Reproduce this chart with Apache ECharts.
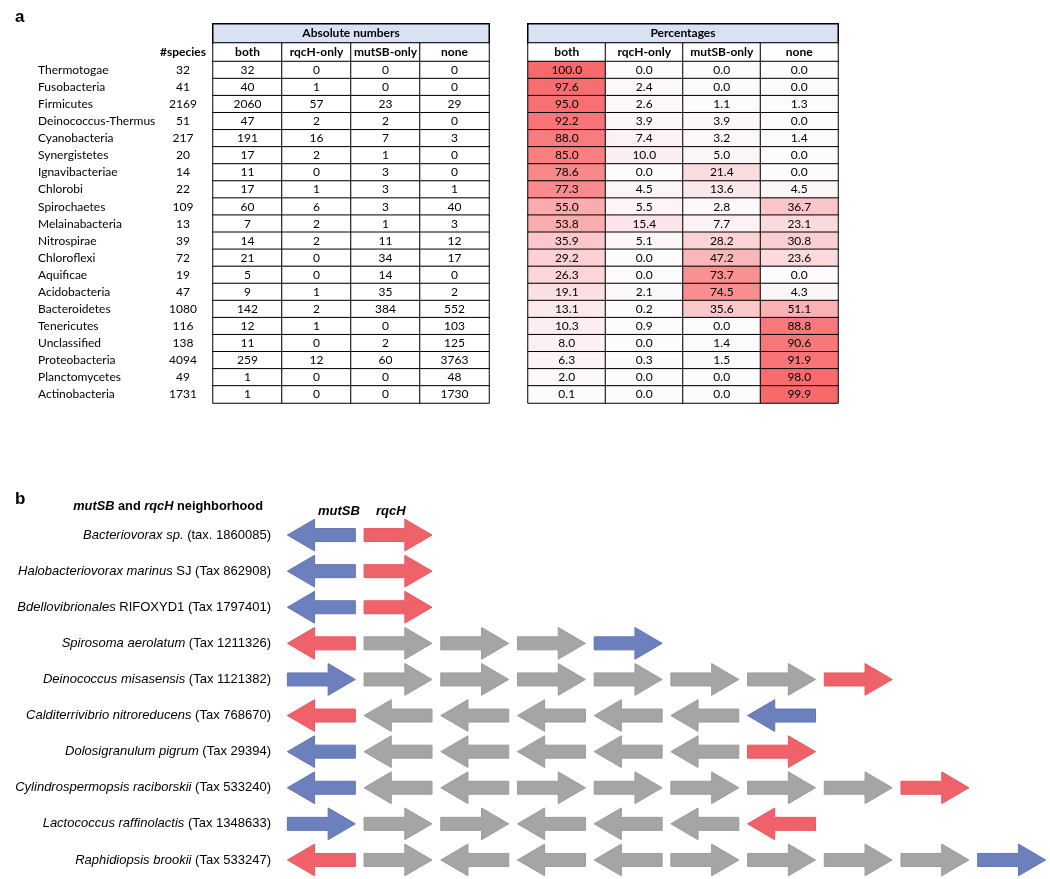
<!DOCTYPE html>
<html><head><meta charset="utf-8">
<script src="https://cdn.jsdelivr.net/npm/echarts@6/dist/echarts.min.js"></script>
<style>html,body{margin:0;padding:0;background:#fff}#c{width:1050px;height:879px}</style>
</head><body><div id="c"></div>
<script>
// ---------- Panel a data ----------
const phyla = ['Thermotogae','Fusobacteria','Firmicutes','Deinococcus-Thermus','Cyanobacteria','Synergistetes','Ignavibacteriae','Chlorobi','Spirochaetes','Melainabacteria','Nitrospirae','Chloroflexi','Aquificae','Acidobacteria','Bacteroidetes','Tenericutes','Unclassified','Proteobacteria','Planctomycetes','Actinobacteria'];
const species = [32,41,2169,51,217,20,14,22,109,13,39,72,19,47,1080,116,138,4094,49,1731];
const columns = ['both','rqcH-only','mutSB-only','none'];
const absBoth  = [32,40,2060,47,191,17,11,17,60,7,14,21,5,9,142,12,11,259,1,1];
const absRqcH  = [0,1,57,2,16,2,0,1,6,2,2,0,0,1,2,1,0,12,0,0];
const absMutSB = [0,0,23,2,7,1,3,3,3,1,11,34,14,35,384,0,2,60,0,0];
const absNone  = [0,0,29,0,3,0,0,1,40,3,12,17,0,2,552,103,125,3763,48,1730];
const pctBoth  = [100.0,97.6,95.0,92.2,88.0,85.0,78.6,77.3,55.0,53.8,35.9,29.2,26.3,19.1,13.1,10.3,8.0,6.3,2.0,0.1];
const pctRqcH  = [0.0,2.4,2.6,3.9,7.4,10.0,0.0,4.5,5.5,15.4,5.1,0.0,0.0,2.1,0.2,0.9,0.0,0.3,0.0,0.0];
const pctMutSB = [0.0,0.0,1.1,3.9,3.2,5.0,21.4,13.6,2.8,7.7,28.2,47.2,73.7,74.5,35.6,0.0,1.4,1.5,0.0,0.0];
const pctNone  = [0.0,0.0,1.3,0.0,1.4,0.0,0.0,4.5,36.7,23.1,30.8,23.6,0.0,4.3,51.1,88.8,90.6,91.9,98.0,99.9];
const absTitle = 'Absolute numbers';
const pctTitle = 'Percentages';
const speciesHeader = '#species';

// ---------- Panel b data ----------
const orgItalic = ['Bacteriovorax sp.','Halobacteriovorax marinus','Bdellovibrionales','Spirosoma aerolatum','Deinococcus misasensis','Calditerrivibrio nitroreducens','Dolosigranulum pigrum','Cylindrospermopsis raciborskii','Lactococcus raffinolactis','Raphidiopsis brookii'];
const orgRest = ['(tax. 1860085)','SJ (Tax 862908)','RIFOXYD1 (Tax 1797401)','(Tax 1211326)','(Tax 1121382)','(Tax 768670)','(Tax 29394)','(Tax 533240)','(Tax 1348633)','(Tax 533247)'];
const geneDir = [
  ['L','R'],
  ['L','R'],
  ['L','R'],
  ['L','R','R','R','R'],
  ['R','R','R','R','R','R','R','R'],
  ['L','L','L','L','L','L','L'],
  ['L','L','L','L','L','L','R'],
  ['L','L','L','R','R','R','R','R','R'],
  ['R','R','R','L','L','L','L'],
  ['L','R','L','L','L','R','R','R','R','R']
];
const geneKind = [
  ['mutSB','rqcH'],
  ['mutSB','rqcH'],
  ['mutSB','rqcH'],
  ['rqcH','other','other','other','mutSB'],
  ['mutSB','other','other','other','other','other','other','rqcH'],
  ['rqcH','other','other','other','other','other','mutSB'],
  ['mutSB','other','other','other','other','other','rqcH'],
  ['mutSB','other','other','other','other','other','other','other','rqcH'],
  ['mutSB','other','other','other','other','other','rqcH'],
  ['rqcH','other','other','other','other','other','other','other','other','mutSB']
];
const geneLabels = ['mutSB','rqcH'];

// ---------- build ----------
const tableFont = 'Lato';
const absCols = [absBoth, absRqcH, absMutSB, absNone];
const pctCols = [pctBoth, pctRqcH, pctMutSB, pctNone];
const absData = [], pctData = [];
absCols.forEach((col, j) => col.forEach((v, i) => absData.push([j, i, v])));
pctCols.forEach((col, j) => col.forEach((v, i) => pctData.push([j, i, v])));
const colHdrData = columns.map((c, j) => [j, 0, 0]);

const kindColor = {mutSB: '#6c80bd', rqcH: '#f0626a', other: '#a5a5a5'};
const kindStroke = {mutSB: '#6275b0', rqcH: '#e55a62', other: '#9b9b9b'};
const kinds = ['mutSB','rqcH','other'];
const geneData = [];
geneDir.forEach((row, r) => row.forEach((d, s) => geneData.push([s, r, d === 'R' ? 1 : -1, kinds.indexOf(geneKind[r][s])])));

const hidden = {show: false};
function catAxis(gridIndex, data, extra) {
  return Object.assign({type: 'category', gridIndex, data, axisLine: hidden, axisTick: hidden, splitLine: hidden, axisLabel: {show: false}}, extra || {});
}
const cellBorder = {borderColor: '#000', borderWidth: 1};
const txt = {color: '#000', fontFamily: tableFont, fontSize: 12};
const bFont = 'Liberation Sans';

const option = {
  animation: false,
  backgroundColor: '#fff',
  title: [
    {text: 'a', left: 10, top: 4, textStyle: {fontFamily: bFont, fontWeight: 'bold', fontSize: 17, color: '#000'}},
    {text: 'b', left: 10, top: 486, textStyle: {fontFamily: bFont, fontWeight: 'bold', fontSize: 17, color: '#000'}},
    {text: '{i|mutSB}{n| and }{i|rqcH}{n| neighborhood}', right: 1050 - 268, top: 495,
      textStyle: {rich: {
        i: {fontFamily: bFont, fontStyle: 'italic', fontWeight: 'bold', fontSize: 12.8, color: '#000'},
        n: {fontFamily: bFont, fontWeight: 'bold', fontSize: 12.8, color: '#000'}}}},
    {text: geneLabels[0], left: 313, top: 500, textStyle: {fontFamily: bFont, fontStyle: 'italic', fontWeight: 'bold', fontSize: 13, color: '#000'}},
    {text: geneLabels[1], left: 371, top: 500, textStyle: {fontFamily: bFont, fontStyle: 'italic', fontWeight: 'bold', fontSize: 13, color: '#000'}}
  ],
  grid: [
    {left: 213, top: 24, width: 276, height: 19},
    {left: 213, top: 43, width: 276, height: 18.5},
    {left: 213, top: 61.5, width: 276, height: 341.5},
    {left: 528, top: 24, width: 310, height: 19},
    {left: 528, top: 43, width: 310, height: 18.5},
    {left: 528, top: 61.5, width: 310, height: 341.5},
    {left: 283, top: 517, width: 767, height: 361}
  ],
  xAxis: [
    catAxis(0, [absTitle]),
    catAxis(1, columns),
    catAxis(2, columns),
    catAxis(3, [pctTitle]),
    catAxis(4, columns),
    catAxis(5, columns),
    {type: 'value', gridIndex: 6, min: -0.5, max: 9.5, interval: 0.5, show: false}
  ],
  yAxis: [
    catAxis(0, ['t']),
    catAxis(1, ['h'], {axisLabel: {show: true, margin: 3, align: 'right',
      formatter: () => '{h|' + speciesHeader + '}',
      rich: {h: Object.assign({}, txt, {fontWeight: 'bold', width: 54, align: 'center'})}}}),
    catAxis(2, phyla, {inverse: true, axisLabel: {show: true, margin: 3, align: 'right',
      formatter: (v, i) => '{n|' + v + '}{s|' + species[i] + '}',
      rich: {n: Object.assign({}, txt, {width: 118, align: 'left'}), s: Object.assign({}, txt, {width: 54, align: 'center'})}}}),
    catAxis(3, ['t']),
    catAxis(4, ['h']),
    catAxis(5, phyla, {inverse: true}),
    catAxis(6, orgItalic, {inverse: true, axisLabel: {show: true, margin: 12, align: 'right',
      formatter: (v, i) => '{i|' + v + '}{r| ' + orgRest[i] + '}',
      rich: {
        i: {fontFamily: bFont, fontStyle: 'italic', fontSize: 13, color: '#000'},
        r: {fontFamily: bFont, fontSize: 13, color: '#000'}}}})
  ],
  visualMap: {type: 'continuous', show: false, min: 0, max: 100, dimension: 2, seriesIndex: 5,
    inRange: {color: ['#fcfcff', '#f8696b']}},
  series: [
    {type: 'heatmap', xAxisIndex: 0, yAxisIndex: 0, data: [[0, 0, 0]],
      itemStyle: {color: '#d9e1f2', borderColor: '#000', borderWidth: 1.5},
      label: {show: true, formatter: () => absTitle, color: '#000', fontFamily: tableFont, fontSize: 12, fontWeight: 'bold'},
      emphasis: {disabled: true}},
    {type: 'heatmap', xAxisIndex: 1, yAxisIndex: 1, data: colHdrData,
      itemStyle: Object.assign({color: '#fff'}, cellBorder),
      label: Object.assign({show: true, fontWeight: 'bold', formatter: p => columns[p.value[0]]}, txt),
      emphasis: {disabled: true}},
    {type: 'heatmap', xAxisIndex: 2, yAxisIndex: 2, data: absData,
      itemStyle: Object.assign({color: '#fff'}, cellBorder),
      label: Object.assign({show: true, formatter: p => String(p.value[2])}, txt),
      emphasis: {disabled: true}},
    {type: 'heatmap', xAxisIndex: 3, yAxisIndex: 3, data: [[0, 0, 0]],
      itemStyle: {color: '#d9e1f2', borderColor: '#000', borderWidth: 1.5},
      label: {show: true, formatter: () => pctTitle, color: '#000', fontFamily: tableFont, fontSize: 12, fontWeight: 'bold'},
      emphasis: {disabled: true}},
    {type: 'heatmap', xAxisIndex: 4, yAxisIndex: 4, data: colHdrData,
      itemStyle: Object.assign({color: '#fff'}, cellBorder),
      label: Object.assign({show: true, fontWeight: 'bold', formatter: p => columns[p.value[0]]}, txt),
      emphasis: {disabled: true}},
    {type: 'heatmap', xAxisIndex: 5, yAxisIndex: 5, data: pctData,
      itemStyle: cellBorder,
      label: Object.assign({show: true, formatter: p => p.value[2].toFixed(1)}, txt),
      emphasis: {disabled: true}},
    {type: 'custom', xAxisIndex: 6, yAxisIndex: 6, data: geneData, clip: false,
      renderItem: (params, api) => {
        const s = api.value(0), r = api.value(1), dir = api.value(2), k = kinds[api.value(3)];
        const c = api.coord([s, r]);
        const unit = api.size([1, 0])[0];
        const band = api.size([0, 1])[1];
        const half = unit * 0.443;
        const head = half * 2 * 0.4;
        const bh = band * 0.18, hh = band * 0.44;
        const cx = c[0], cy = c[1];
        let pts;
        if (dir > 0) {
          const x0 = cx - half, x1 = cx + half, xh = x1 - head;
          pts = [[x0, cy - bh], [xh, cy - bh], [xh, cy - hh], [x1, cy], [xh, cy + hh], [xh, cy + bh], [x0, cy + bh]];
        } else {
          const x0 = cx + half, x1 = cx - half, xh = x1 + head;
          pts = [[x0, cy - bh], [xh, cy - bh], [xh, cy - hh], [x1, cy], [xh, cy + hh], [xh, cy + bh], [x0, cy + bh]];
        }
        return {type: 'polygon', shape: {points: pts}, style: {fill: kindColor[k], stroke: kindStroke[k], lineWidth: 1}};
      }}
  ]
};
const chart = echarts.init(document.getElementById('c'), null, {renderer: 'canvas'});
chart.setOption(option);
</script>
</body></html>
